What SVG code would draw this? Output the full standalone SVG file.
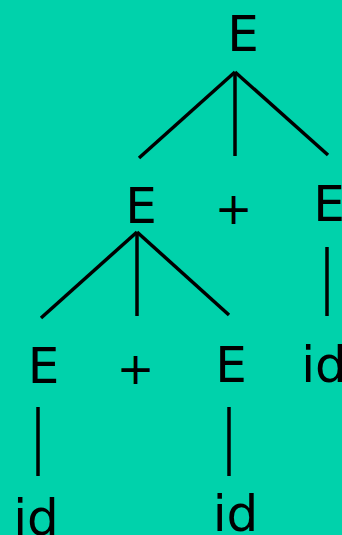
<svg xmlns="http://www.w3.org/2000/svg" width="342" height="535" viewBox="0 0 342 535">
<style>
text{font-family:"DejaVu Sans",Verdana,sans-serif;font-size:50px;fill:#000;text-anchor:middle}
text.p{font-size:45px}
.c line{stroke:#000;stroke-width:3.5;stroke-linecap:butt}
</style>
<rect width="342" height="535" fill="#00D2AB"/>
<g class="c" id="connectors">
<line x1="235" y1="72" x2="139" y2="158"/>
<line x1="235" y1="72" x2="235" y2="156"/>
<line x1="235" y1="72" x2="328" y2="155"/>
<line x1="137" y1="232" x2="41" y2="318"/>
<line x1="137" y1="232" x2="137" y2="316"/>
<line x1="137" y1="232" x2="229" y2="315"/>
<line x1="327" y1="247" x2="327" y2="316"/>
<line x1="38" y1="407" x2="38" y2="476"/>
<line x1="229" y1="407" x2="229" y2="476"/>
</g>
<g id="n-root"><text x="243" y="51">E</text></g>
<g id="n-e1"><text x="141" y="223">E</text></g>
<g id="n-plus1"><text class="p" x="233.5" y="224">+</text></g>
<g id="n-e2"><text x="329" y="221">E</text></g>
<g id="n-e3"><text x="43.5" y="383">E</text></g>
<g id="n-plus2"><text class="p" x="135.5" y="384">+</text></g>
<g id="n-e4"><text x="231" y="382">E</text></g>
<g id="n-id1"><text x="324" y="382">id</text></g>
<g id="n-id2"><text x="36" y="535">id</text></g>
<g id="n-id3"><text x="235.5" y="531">id</text></g>
</svg>
